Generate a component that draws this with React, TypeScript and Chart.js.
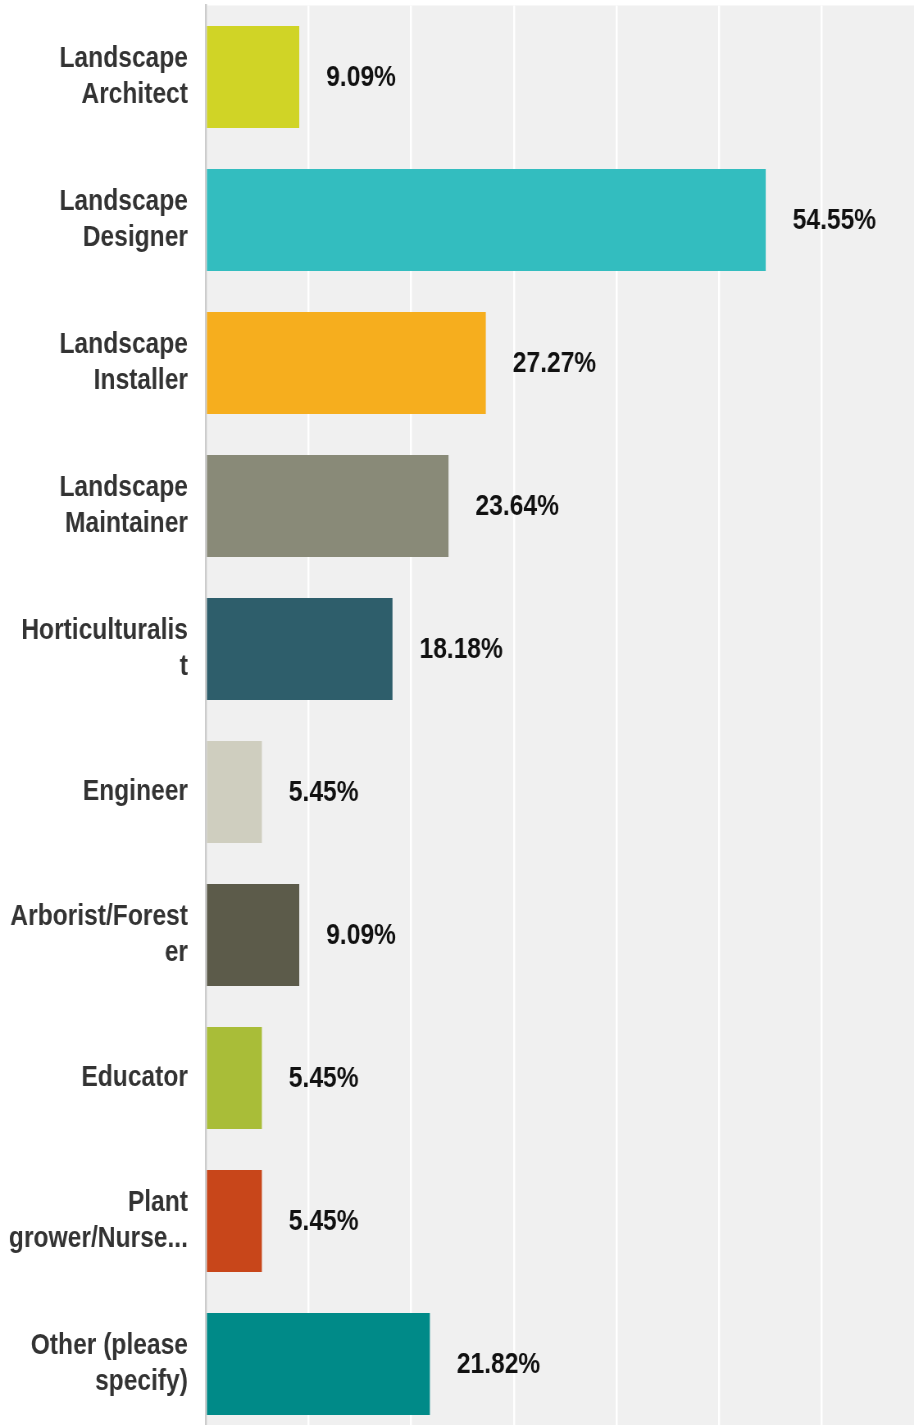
import React, { useEffect, useRef } from "react";
import { Chart, registerables } from "chart.js";

Chart.register(...registerables);

const categories: (string | string[])[] = [
  ["Landscape", "Architect"],
  ["Landscape", "Designer"],
  ["Landscape", "Installer"],
  ["Landscape", "Maintainer"],
  ["Horticulturalis", "t"],
  "Engineer",
  ["Arborist/Forest", "er"],
  "Educator",
  ["Plant", "grower/Nurse..."],
  ["Other (please", "specify)"],
];

const percentages: number[] = [9.09, 54.55, 27.27, 23.64, 18.18, 5.45, 9.09, 5.45, 5.45, 21.82];

const barColors: string[] = [
  "#d0d426",
  "#33bdbf",
  "#f6ae1e",
  "#898a78",
  "#2e5e6b",
  "#cfcebf",
  "#5c5b4a",
  "#a9bd38",
  "#c8461a",
  "#008a88",
];

// The reference uses a horizontally condensed bold sans; we render the canvas
// wider internally and display it squeezed, which condenses the glyphs.
const SQUEEZE = 0.82;
const VIEW_W = 914;
const VIEW_H = 1425;
const CANVAS_H = 1436;
const CANVAS_W = Math.round(VIEW_W / SQUEEZE);
const FONT = "'Liberation Sans', Arial, sans-serif";

const plotBackground = {
  id: "plotBackground",
  beforeDraw(chart: any) {
    const { ctx, chartArea } = chart;
    ctx.save();
    ctx.fillStyle = "#f0f0f0";
    ctx.fillRect(chartArea.left, chartArea.top, chartArea.right - chartArea.left, chartArea.bottom - chartArea.top);
    ctx.restore();
  },
};

const valueLabels = {
  id: "valueLabels",
  afterDatasetsDraw(chart: any) {
    const { ctx } = chart;
    const meta = chart.getDatasetMeta(0);
    const data = chart.data.datasets[0].data as number[];
    ctx.save();
    ctx.font = `bold 30px ${FONT}`;
    ctx.fillStyle = "#111111";
    ctx.textAlign = "left";
    ctx.textBaseline = "middle";
    meta.data.forEach((bar: any, i: number) => {
      ctx.fillText(`${data[i].toFixed(2)}%`, bar.x + 27 / SQUEEZE, bar.y + 1);
    });
    ctx.restore();
  },
};

export default function App() {
  const canvasRef = useRef<HTMLCanvasElement | null>(null);

  useEffect(() => {
    if (!canvasRef.current) return;
    const chart = new Chart(canvasRef.current, {
      type: "bar",
      data: {
        labels: categories,
        datasets: [
          {
            data: percentages,
            backgroundColor: barColors,
            borderWidth: 0,
            categoryPercentage: 1,
            barPercentage: 0.715,
          },
        ],
      },
      options: {
        indexAxis: "y",
        animation: false,
        responsive: false,
        maintainAspectRatio: false,
        devicePixelRatio: 1,
        layout: { padding: { top: 5.5, bottom: 0.5, left: 0, right: 0 } },
        plugins: {
          legend: { display: false },
          tooltip: { enabled: false },
        },
        scales: {
          x: {
            min: 0,
            max: 69,
            ticks: { display: false, stepSize: 10 },
            afterBuildTicks(scale: any) {
              scale.ticks = scale.ticks.filter((t: any) => t.value % 10 === 0);
            },
            grid: { color: "#ffffff", lineWidth: 2 / SQUEEZE, drawTicks: false },
            border: { display: false },
          },
          y: {
            ticks: {
              color: "#333333",
              font: { family: FONT, size: 30, weight: "bold", lineHeight: 1.2 },
              padding: 18 / SQUEEZE,
            },
            afterFit(scale: any) {
              scale.width = 206 / SQUEEZE;
              scale.paddingTop = 0;
              scale.paddingBottom = 0;
            },
            grid: { display: false, drawTicks: false },
            border: { display: true, color: "#cccccc", width: 2 / SQUEEZE },
          },
        },
      },
      plugins: [plotBackground, valueLabels],
    });
    return () => chart.destroy();
  }, []);

  return (
    <div
      style={{
        position: "absolute",
        left: 0,
        top: 0,
        width: VIEW_W,
        height: VIEW_H,
        overflow: "hidden",
        background: "#ffffff",
      }}
    >
      <canvas
        ref={canvasRef}
        width={CANVAS_W}
        height={CANVAS_H}
        style={{ display: "block", width: `${VIEW_W}px`, height: `${CANVAS_H}px` }}
      />
    </div>
  );
}
